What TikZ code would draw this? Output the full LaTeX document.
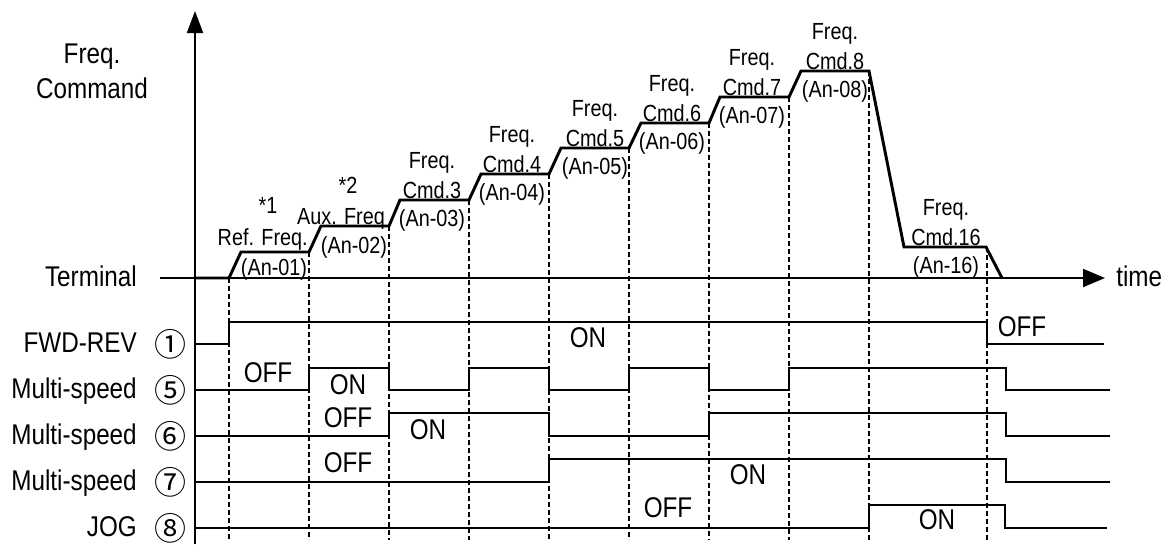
\documentclass[tikz,border=0pt]{standalone}
\usepackage{fontspec}
\setmainfont[FakeStretch=0.85]{Liberation Sans}
\newfontfamily\circfont{Noto Sans CJK JP}
\usetikzlibrary{arrows.meta}
\tikzset{
  axis/.style={line width=1.5pt},
  wave/.style={line width=2.2pt, line join=miter},
  guide/.style={line width=0.9pt, dash pattern=on 3.5pt off 2.5pt},
  small/.style={font=\fontsize{17.5}{20}\selectfont, inner sep=0pt},
  big/.style={font=\fontsize{21.4}{25}\selectfont, inner sep=0pt},
  circ/.style={font=\circfont\fontsize{24}{26}\selectfont, inner sep=0pt},
}
\begin{document}
\begin{tikzpicture}[x=0.75pt,y=-0.75pt]
\useasboundingbox (0,0) rectangle (1171,544);
% axes
\draw[axis,-{Triangle[length=16.5pt,width=12pt]}] (195,544) -- (195,11);
\draw[axis,-{Triangle[length=16.5pt,width=13.5pt]}] (160,278) -- (1105,278);
% guides
\foreach \x/\y in {229/278,309/252,389/226,469/200,549/174,629/148,709/123,789/97,869/71,987/247}
  \draw[guide] (\x,\y) -- (\x,540);
% frequency profile
\draw[wave] (195,278) -- (229,278) -- (241,252) -- (309,252) -- (321,226) -- (389,226) -- (400,200) -- (469,200) -- (481,174) -- (549,174) -- (561,148) -- (629,148) -- (641,123) -- (709,123) -- (720,97) -- (789,97) -- (801,71) -- (869,71) -- (904,247) -- (986,247) -- (1002,278);
% signals
\draw[wave] (195,344) -- (229,344) -- (229,322) -- (987,322) -- (987,344) -- (1104,344);
\draw[wave] (195,390) -- (309,390) -- (309,368) -- (389,368) -- (389,390) -- (469,390) -- (469,368) -- (549,368) -- (549,390) -- (629,390) -- (629,368) -- (709,368) -- (709,390) -- (789,390) -- (789,368) -- (1006,368) -- (1006,390) -- (1110,390);
\draw[wave] (195,436) -- (389,436) -- (389,413) -- (549,413) -- (549,436) -- (709,436) -- (709,413) -- (1006,413) -- (1006,436) -- (1110,436);
\draw[wave] (195,482) -- (549,482) -- (549,459) -- (1006,459) -- (1006,482) -- (1110,482);
\draw[wave] (195,528) -- (869,528) -- (869,505) -- (1005,505) -- (1005,528) -- (1107,528);
% left labels
\node[big,anchor=base] (fq) at (92,63) {Freq.};
\node[big,anchor=base] (cmd) at (92,98) {Command};
\node[big,anchor=base east] (term) at (137,286) {Terminal};
\node[big,anchor=base west] (time) at (1116,286) {time};
\node[big,anchor=base east] (s1) at (137,352) {FWD-REV};
\node[big,anchor=base east] (s5) at (137,398) {Multi-speed};
\node[big,anchor=base east] (s6) at (137,444) {Multi-speed};
\node[big,anchor=base east] (s7) at (137,490) {Multi-speed};
\node[big,anchor=base east] (s8) at (137,536) {JOG};
\node[circ] (c1) at (170,344) {①};
\node[circ] (c5) at (170,390) {⑤};
\node[circ] (c6) at (170,436) {⑥};
\node[circ] (c7) at (170,482) {⑦};
\node[circ] (c8) at (170,528) {⑧};
% ON/OFF
\node[big] (on1) at (588,338) {ON};
\node[big] (off1) at (1022,327) {OFF};
\node[big] (off5) at (268,373) {OFF};
\node[big] (on5) at (348,385) {ON};
\node[big] (off6) at (348,418) {OFF};
\node[big] (on6) at (428,430) {ON};
\node[big] (off7) at (348,463) {OFF};
\node[big] (on7) at (748,475) {ON};
\node[big] (off8) at (668,508) {OFF};
\node[big] (on8) at (937,520) {ON};
% level labels
\node[small,anchor=base] (st1) at (268,213) {*1};
\node[small,anchor=base east] (ref) at (308,245) {Ref. Freq.};
\node[small,anchor=base] (an1) at (274,275) {(An-01)};
\node[small,anchor=base] (st2) at (348,193) {*2};
\node[small,anchor=base] (aux) at (341,224) {Aux. Freq};
\node[small,anchor=base] (an2) at (354,253) {(An-02)};
\foreach \n/\x/\l/\c/\a in {3/432/200/Cmd.3/(An-03),4/512/174/Cmd.4/(An-04),5/595/148/Cmd.5/(An-05),6/672/123/Cmd.6/(An-06),7/752/97/Cmd.7/(An-07),8/835/71/Cmd.8/(An-08),16/946/247/Cmd.16/(An-16)}{
  \node[small,anchor=base] (f\n) at (\x,\l-32) {Freq.};
  \node[small,anchor=base] (c\n) at (\x,\l-2) {\c};
  \node[small,anchor=base] (a\n) at (\x,\l+26) {\a};
}
\end{tikzpicture}
\end{document}
